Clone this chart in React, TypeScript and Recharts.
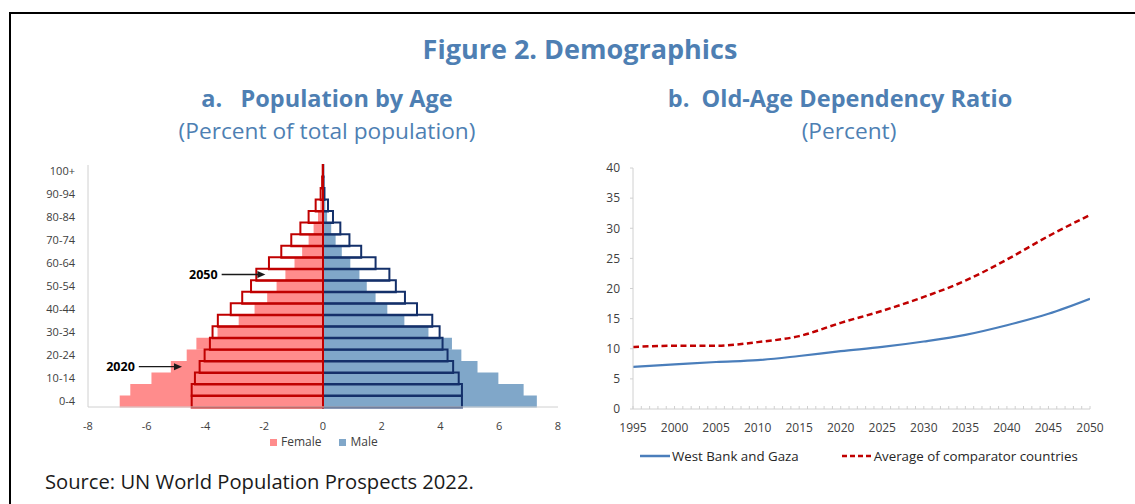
import React from 'react';
import { BarChart, Bar, XAxis, YAxis, LineChart, Line, Legend, ReferenceLine } from 'recharts';

// ---------- Panel a: population pyramid (percent of total population) ----------
const ageGroups = ['0-4', '5-9', '10-14', '15-19', '20-24', '25-29', '30-34', '35-39', '40-44', '45-49', '50-54', '55-59', '60-64', '65-69', '70-74', '75-79', '80-84', '85-89', '90-94', '95-99', '100+'];
const female2020 = [-6.92, -6.56, -5.84, -5.18, -4.64, -4.31, -3.59, -2.87, -2.33, -1.9, -1.58, -1.28, -0.97, -0.71, -0.49, -0.32, -0.17, -0.09, -0.03, -0.01, -0.004];
const male2020 = [7.28, 6.83, 5.97, 5.26, 4.71, 4.39, 3.59, 2.77, 2.19, 1.79, 1.49, 1.24, 0.93, 0.64, 0.43, 0.28, 0.14, 0.08, 0.02, 0.01, 0.004];
const female2050 = [-4.47, -4.47, -4.36, -4.2, -4.03, -3.85, -3.76, -3.58, -3.14, -2.75, -2.45, -2.27, -1.84, -1.42, -1.08, -0.77, -0.49, -0.25, -0.08, -0.03, -0.01];
const male2050 = [4.73, 4.73, 4.62, 4.43, 4.24, 4.07, 3.97, 3.72, 3.2, 2.79, 2.48, 2.26, 1.79, 1.3, 0.9, 0.59, 0.34, 0.17, 0.05, 0.02, 0.01];
const pyramidTicks = [-8, -6, -4, -2, 0, 2, 4, 6, 8];
const pyramidLegendOrder = ['Female', 'Male'];
const pyramidNotes = [
  { label: '2050', age: '55-59', from: -3.45, to: -1.96 },
  { label: '2020', age: '15-19', from: -6.27, to: -4.8 },
];

// ---------- Panel b: old-age dependency ratio (percent) ----------
const years = [1995, 2000, 2005, 2010, 2015, 2020, 2025, 2030, 2035, 2040, 2045, 2050];
const westBankGaza = [7.0, 7.4, 7.8, 8.1, 8.8, 9.6, 10.3, 11.2, 12.3, 13.9, 15.8, 18.3];
const comparatorAvg = [10.3, 10.5, 10.5, 11.1, 12.1, 14.3, 16.3, 18.6, 21.3, 24.8, 28.7, 32.2];
const ratioYTicks = [0, 5, 10, 15, 20, 25, 30, 35, 40];
const yearTicks = Array.from({ length: 2050 - 1995 + 1 }, (_, i) => 1995 + i);
const ratioLegendOrder = ['West Bank and Gaza', 'Average of comparator countries'];

const FONT = '"Open Sans", "Noto Sans", "DejaVu Sans", sans-serif';
const TITLE_BLUE = '#4e7fb3';
const GRID = '#d0d0d0';
const TICK = '#404040';
const PINK = '#ff8c8c';
const STEEL = '#80a7c9';
const RED = '#c00000';
const NAVY = '#14306a';
const LINE_BLUE = '#4a7ebb';

const pyramidData = ageGroups.map((age, i) => ({
  age,
  f2020: female2020[i],
  m2020: male2020[i],
  f2050: female2050[i],
  m2050: male2050[i],
}));

const ratioData = years.map((year, i) => ({ year, wbg: westBankGaza[i], comp: comparatorAvg[i] }));

const orderItems = (payload: any[], order: string[]) =>
  order
    .map((name) => payload.find((p: any) => p.value === name && p.type !== 'none'))
    .filter(Boolean) as any[];

const PyramidLegend = (props: any) => {
  const items = orderItems(props.payload || [], pyramidLegendOrder);
  return (
    <div style={{ height: 16, display: 'flex', alignItems: 'center', paddingLeft: 270, fontSize: 12, color: TICK, fontFamily: FONT, whiteSpace: 'nowrap' }}>
      {items.map((p: any) => (
        <div key={p.value} style={{ display: 'flex', alignItems: 'center', marginRight: 18 }}>
          <span style={{ display: 'inline-block', width: 7, height: 7, background: p.color, marginRight: 4 }} />
          <span style={{ lineHeight: '16px' }}>{p.value}</span>
        </div>
      ))}
    </div>
  );
};

const RatioLegend = (props: any) => {
  const items = orderItems(props.payload || [], ratioLegendOrder);
  return (
    <div style={{ height: 16, display: 'flex', alignItems: 'center', paddingLeft: 80, fontSize: 13.3, color: '#262626', fontFamily: FONT, whiteSpace: 'nowrap' }}>
      {items.map((p: any, i: number) => (
        <div key={p.value} style={{ display: 'flex', alignItems: 'center', marginRight: i === 0 ? 43 : 0 }}>
          <svg width={30} height={6} style={{ marginRight: 2 }}>
            <line x1={0} y1={3} x2={30} y2={3} stroke={p.color} strokeWidth={2.5} strokeDasharray={p.payload && p.payload.strokeDasharray ? '5 3' : undefined} />
          </svg>
          <span style={{ lineHeight: '16px' }}>{p.value}</span>
        </div>
      ))}
    </div>
  );
};

const arrowShape = (label: string) => (props: any) => {
  const { x1, y1, x2, y2 } = props;
  if (x1 == null || x2 == null) return null;
  return (
    <g>
      <line x1={x1} y1={y1} x2={x2 - 7} y2={y2} stroke="#1a1a1a" strokeWidth={1.4} />
      <polygon points={`${x2},${y2} ${x2 - 8},${y2 - 3.5} ${x2 - 8},${y2 + 3.5}`} fill="#1a1a1a" />
      <text x={x1 - 4} y={y1} dy="0.35em" textAnchor="end" fontSize={12.5} fontWeight={700} fill="#000" fontFamily={FONT}>
        {label}
      </text>
    </g>
  );
};

function Pyramid() {
  return (
    <BarChart
      width={580}
      height={299}
      data={pyramidData}
      layout="vertical"
      stackOffset="sign"
      barCategoryGap={0}
      barGap={0}
      margin={{ top: 10, right: 22, bottom: 4, left: 0 }}
    >
      <XAxis
        type="number"
        domain={[-8, 8]}
        ticks={pyramidTicks}
        allowDataOverflow
        axisLine={{ stroke: GRID }}
        tickLine={false}
        tick={{ fill: TICK, fontSize: 11 }}
        tickMargin={9}
        height={27}
      />
      <XAxis
        xAxisId="top"
        orientation="top"
        type="number"
        domain={[-8, 8]}
        ticks={pyramidTicks}
        allowDataOverflow
        height={0}
        axisLine={{ stroke: GRID }}
        tick={false}
        tickLine={{ stroke: GRID }}
        tickSize={-4}
      />
      <YAxis
        yAxisId="a"
        type="category"
        dataKey="age"
        reversed
        interval={1}
        width={88}
        axisLine={{ stroke: GRID }}
        tickLine={false}
        tick={{ fill: TICK, fontSize: 11 }}
        tickMargin={7}
      />
      <YAxis
        yAxisId="b"
        type="category"
        dataKey="age"
        reversed
        orientation="right"
        width={0}
        axisLine={{ stroke: GRID }}
        tickLine={false}
        tick={false}
      />
      <Bar yAxisId="a" dataKey="f2020" name="Female" stackId="y2020" fill={PINK} isAnimationActive={false} />
      <Bar yAxisId="a" dataKey="m2020" name="Male" stackId="y2020" fill={STEEL} isAnimationActive={false} />
      <Bar yAxisId="b" dataKey="m2050" name="Male 2050" stackId="y2050" fill="none" stroke={NAVY} strokeWidth={2} legendType="none" isAnimationActive={false} />
      <Bar yAxisId="b" dataKey="f2050" name="Female 2050" stackId="y2050" fill="none" stroke={RED} strokeWidth={2} legendType="none" isAnimationActive={false} />
      {pyramidNotes.map((n) => (
        <ReferenceLine
          key={n.label}
          yAxisId="a"
          segment={[{ x: n.from, y: n.age }, { x: n.to, y: n.age }]}
          shape={arrowShape(n.label)}
        />
      ))}
      <Legend content={<PyramidLegend />} />
    </BarChart>
  );
}

function Ratio() {
  return (
    <LineChart width={560} height={313} data={ratioData} margin={{ top: 13, right: 30, bottom: 4, left: 0 }}>
      <XAxis
        dataKey="year"
        type="number"
        domain={[1995, 2050]}
        ticks={yearTicks}
        interval={0}
        allowDataOverflow
        tickFormatter={(v: number) => (v % 5 === 0 ? String(v) : '')}
        tickSize={-3}
        tickMargin={17}
        height={39}
        axisLine={{ stroke: GRID }}
        tickLine={{ stroke: GRID }}
        tick={{ fill: TICK, fontSize: 12 }}
      />
      <XAxis
        xAxisId="top"
        orientation="top"
        type="number"
        domain={[1995, 2050]}
        allowDataOverflow
        height={0}
        tick={false}
        tickLine={false}
        axisLine={{ stroke: GRID }}
      />
      <YAxis
        type="number"
        domain={[0, 40]}
        ticks={ratioYTicks}
        allowDataOverflow
        width={73}
        tickSize={3}
        tickMargin={10}
        axisLine={{ stroke: GRID }}
        tickLine={{ stroke: GRID }}
        tick={{ fill: TICK, fontSize: 12 }}
      />
      <YAxis
        yAxisId="r"
        orientation="right"
        type="number"
        domain={[0, 40]}
        allowDataOverflow
        width={0}
        tick={false}
        tickLine={false}
        axisLine={{ stroke: GRID }}
      />
      <Line dataKey="wbg" name="West Bank and Gaza" type="monotone" stroke={LINE_BLUE} strokeWidth={2.2} dot={false} isAnimationActive={false} />
      <Line dataKey="comp" name="Average of comparator countries" type="monotone" stroke={RED} strokeWidth={2.5} strokeDasharray="6 3.5" dot={false} isAnimationActive={false} />
      <Legend content={<RatioLegend />} />
    </LineChart>
  );
}

export default function App() {
  return (
    <div style={{ position: 'absolute', left: 0, top: 0, width: 1135, height: 504, overflow: 'hidden', background: '#fff', fontFamily: FONT }}>
      <div style={{ position: 'absolute', left: 9, top: 12, width: 1200, height: 600, border: '2px solid #000', boxSizing: 'border-box' }} />
      <div style={{ position: 'absolute', left: 280, top: 35, width: 600, textAlign: 'center', fontSize: 27, lineHeight: 1, fontWeight: 700, color: TITLE_BLUE, whiteSpace: 'nowrap' }}>
        Figure 2. Demographics
      </div>
      <div style={{ position: 'absolute', left: 27, top: 87, width: 600, textAlign: 'center', fontSize: 23.5, lineHeight: 1, fontWeight: 700, color: TITLE_BLUE, whiteSpace: 'pre' }}>
        {'a.   Population by Age'}
      </div>
      <div style={{ position: 'absolute', left: 27, top: 120, width: 600, textAlign: 'center', fontSize: 22.7, lineHeight: 1, color: TITLE_BLUE, whiteSpace: 'nowrap' }}>
        (Percent of total population)
      </div>
      <div style={{ position: 'absolute', left: 540, top: 87, width: 600, textAlign: 'center', fontSize: 23.5, lineHeight: 1, fontWeight: 700, color: TITLE_BLUE, whiteSpace: 'pre' }}>
        {'b.  Old-Age Dependency Ratio'}
      </div>
      <div style={{ position: 'absolute', left: 549, top: 120, width: 600, textAlign: 'center', fontSize: 22.7, lineHeight: 1, color: TITLE_BLUE, whiteSpace: 'nowrap' }}>
        (Percent)
      </div>
      <div style={{ position: 'absolute', left: 0, top: 155 }}>
        <Pyramid />
      </div>
      <div style={{ position: 'absolute', left: 560, top: 155 }}>
        <Ratio />
      </div>
      <div style={{ position: 'absolute', left: 45, top: 471, fontSize: 20.2, lineHeight: 1, color: '#1a1a1a', whiteSpace: 'nowrap' }}>
        Source: UN World Population Prospects 2022.
      </div>
    </div>
  );
}
